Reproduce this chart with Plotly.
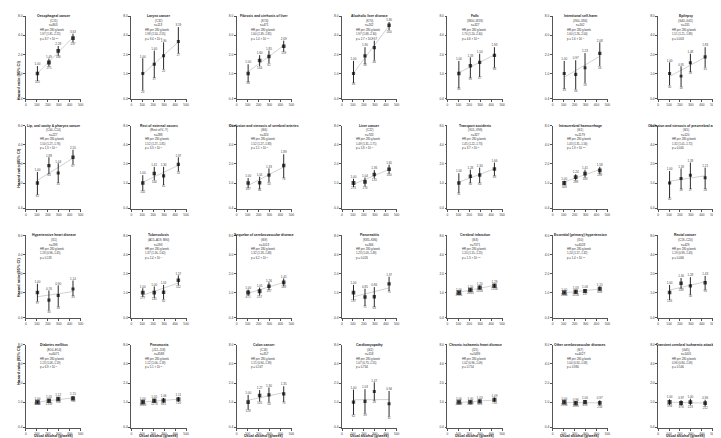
import numpy as np
import plotly.graph_objects as go

# ---- data ----
alcohol = [105, 210, 295, 430]  # g/week, mean intake in each group

titles = ["Oesophageal cancer", "Larynx cancer", "Fibrosis and cirrhosis of liver", "Alcoholic liver disease",
          "Falls", "Intentional self-harm", "Epilepsy",
          "Lip, oral cavity & pharynx cancer", "Rest of external causes", "Occlusion and stenosis of cerebral arteries",
          "Liver cancer", "Transport accidents", "Intracerebral haemorrhage", "Occlusion and stenosis of precerebral arteries",
          "Hypertensive heart disease", "Tuberculosis", "Sequelae of cerebrovascular disease", "Pancreatitis",
          "Cerebral infarction", "Essential (primary) hypertension", "Rectal cancer",
          "Diabetes mellitus", "Pneumonia", "Colon cancer", "Cardiomyopathy",
          "Chronic ischaemic heart disease", "Other cerebrovascular diseases", "Transient cerebral ischaemic attacks"]

codes = ["(C15)", "(C32)", "(K74)", "(K70)", "(W00–W19)", "(X60–X84)", "(G40–G41)",
         "(C00–C14)", "(Rest of V–Y)", "(I66)", "(C22)", "(V01–V99)", "(I61)", "(I65)",
         "(I11)", "(A15–A19, B90)", "(I69)", "(K85–K86)", "(I63)", "(I10)", "(C19–C20)",
         "(E10–E14)", "(J12–J18)", "(C18)", "(I42)", "(I25)", "(I67)", "(G45)"]

n_cases = [803, 113, 471, 242, 327, 162, 135,
           227, 288, 324, 743, 327, 1179, 120,
           198, 593, 1013, 346, 7371, 4028, 429,
           6071, 4588, 357, 158, 5489, 4027, 1405]

hr_per_280 = ["1.97 (1.81–2.15)", "1.98 (1.54–2.55)", "1.60 (1.39–1.85)", "1.97 (1.68–2.30)",
              "1.70 (1.20–2.40)", "1.60 (1.26–2.04)", "1.51 (1.21–1.89)",
              "1.50 (1.27–1.76)", "1.52 (1.27–1.81)", "1.52 (1.27–1.83)", "1.49 (1.31–1.71)",
              "1.45 (1.22–1.73)", "1.43 (1.31–1.56)", "1.32 (1.01–1.72)",
              "1.18 (0.96–1.45)", "1.37 (1.16–1.62)", "1.32 (1.18–1.48)", "1.23 (1.03–1.49)",
              "1.20 (1.15–1.25)", "1.24 (1.17–1.32)", "1.19 (0.99–1.43)",
              "1.13 (1.08–1.19)", "1.12 (1.06–1.18)", "1.15 (0.94–1.39)", "1.07 (0.73–1.55)",
              "1.02 (0.96–1.09)", "1.00 (0.92–1.08)", "0.96 (0.84–1.09)"]

p_text = ["8.7 × 10<sup>−57</sup>", "9.4 × 10<sup>−8</sup>", "1.4 × 10<sup>−10</sup>", "2.7 × 10<sup>−17</sup>",
          "4.6 × 10<sup>−5</sup>", "1.6 × 10<sup>−4</sup>", "0.003",
          "1.3 × 10<sup>−6</sup>", "3.3 × 10<sup>−6</sup>", "5.1 × 10<sup>−6</sup>", "5.8 × 10<sup>−9</sup>",
          "3.7 × 10<sup>−5</sup>", "1.9 × 10<sup>−15</sup>", "0.045",
          "0.118", "2.4 × 10<sup>−4</sup>", "6.2 × 10<sup>−7</sup>", "0.026",
          "1.3 × 10<sup>−17</sup>", "1.4 × 10<sup>−11</sup>", "0.066",
          "6.9 × 10<sup>−7</sup>", "5.1 × 10<sup>−5</sup>", "0.167", "0.734",
          "0.754", "0.980", "0.546"]

hr = [[1.00, 1.49, 2.28, 3.63], [1.00, 1.40, 1.90, 3.19], [1.00, 1.60, 1.85, 2.69], [1.00, 1.90, 2.57, 5.80],
      [1.00, 1.33, 1.50, 1.93], [1.00, 0.97, 1.23, 2.08], [1.00, 0.91, 1.48, 1.83],
      [1.00, 1.88, 1.44, 2.55], [1.00, 1.41, 1.30, 1.97], [1.00, 1.01, 1.33, 1.89], [1.00, 1.04, 1.36, 1.65],
      [1.00, 1.28, 1.34, 1.66], [1.00, 1.24, 1.41, 1.58], [1.00, 1.18, 1.33, 1.21],
      [1.00, 0.76, 0.90, 1.14], [1.00, 1.00, 1.01, 1.57], [1.00, 1.05, 1.26, 1.45], [1.00, 0.85, 0.86, 1.37],
      [1.00, 1.10, 1.20, 1.28], [1.00, 1.03, 1.06, 1.15], [1.00, 1.40, 1.28, 1.43],
      [1.00, 1.05, 1.12, 1.15], [1.00, 1.05, 1.06, 1.11], [1.00, 1.27, 1.30, 1.35], [1.00, 1.03, 1.47, 0.94],
      [1.00, 1.00, 1.03, 1.09], [1.00, 0.96, 1.00, 0.97], [1.00, 0.97, 1.00, 0.96]]

lo = [[0.76, 1.29, 1.90, 3.10], [0.54, 0.85, 1.16, 2.07], [0.73, 1.30, 1.45, 2.20], [0.71, 1.40, 1.60, 4.80],
      [0.59, 0.85, 0.88, 1.23], [0.57, 0.56, 0.70, 1.30], [0.65, 0.62, 1.05, 1.25],
      [0.65, 1.38, 1.00, 1.95], [0.75, 1.10, 0.93, 1.52], [0.83, 0.80, 1.02, 1.20], [0.86, 0.88, 1.18, 1.40],
      [0.70, 1.00, 1.00, 1.30], [0.92, 1.10, 1.22, 1.38], [0.58, 0.80, 0.80, 0.80],
      [0.72, 0.52, 0.60, 0.88], [0.85, 0.82, 0.78, 1.30], [0.89, 0.90, 1.10, 1.26], [0.76, 0.61, 0.59, 1.05],
      [0.96, 1.04, 1.12, 1.20], [0.96, 0.97, 0.98, 1.07], [0.76, 1.14, 0.92, 1.10],
      [0.96, 0.98, 1.05, 1.07], [0.94, 0.98, 0.97, 1.01], [0.76, 1.02, 0.98, 1.00], [0.63, 0.66, 1.05, 0.59],
      [0.96, 0.96, 0.97, 1.01], [0.95, 0.91, 0.93, 0.88], [0.90, 0.88, 0.89, 0.85]]

hi = [[1.31, 1.72, 2.72, 4.25], [1.74, 2.30, 3.10, 5.40], [1.40, 1.95, 2.30, 3.30], [1.58, 2.60, 3.30, 6.50],
      [1.58, 1.80, 2.05, 2.60], [1.58, 1.62, 2.10, 3.10], [1.50, 1.30, 2.05, 2.60],
      [1.50, 2.55, 2.05, 3.35], [1.33, 1.80, 1.80, 2.55], [1.20, 1.26, 1.70, 2.85], [1.17, 1.22, 1.60, 1.95],
      [1.43, 1.62, 1.75, 2.10], [1.09, 1.38, 1.62, 1.80], [1.55, 1.70, 2.10, 1.75],
      [1.38, 1.08, 1.30, 1.55], [1.17, 1.25, 1.32, 1.87], [1.12, 1.20, 1.45, 1.67], [1.32, 1.15, 1.22, 1.78],
      [1.04, 1.16, 1.29, 1.36], [1.04, 1.09, 1.14, 1.25], [1.32, 1.70, 1.75, 1.83],
      [1.04, 1.12, 1.20, 1.24], [1.06, 1.12, 1.16, 1.21], [1.30, 1.55, 1.70, 1.78], [1.58, 1.60, 2.05, 1.50],
      [1.04, 1.05, 1.10, 1.18], [1.05, 1.02, 1.08, 1.07], [1.11, 1.07, 1.13, 1.09]]

cases = [[105, 275, 186, 237], [24, 37, 25, 27], [86, 144, 82, 159], [38, 58, 46, 100],
         [86, 89, 47, 68], [33, 36, 18, 56], [30, 18, 33, 35],
         [62, 63, 35, 67], [102, 100, 45, 53], [107, 84, 54, 76], [273, 174, 135, 160],
         [91, 80, 64, 88], [508, 298, 163, 209], [40, 28, 27, 24],
         [97, 30, 38, 33], [277, 145, 82, 112], [471, 257, 137, 148], [137, 71, 63, 75],
         [2986, 2013, 1016, 1356], [1866, 1016, 537, 609], [126, 108, 56, 94],
         [3048, 1359, 916, 745], [1913, 1274, 681, 720], [128, 105, 54, 70], [62, 39, 26, 31],
         [2209, 1547, 853, 750], [1996, 1185, 613, 233], [594, 376, 223, 212]]

yticks = [0.4, 1, 2, 4, 8]
ytick_text = ["0.4", "1.0", "2.0", "4.0", "8.0"]

# ---- layout of the 4 x 7 grid (pixels) ----
W, H = 721, 438
ncol, nrow = 7, 4
col_left, col_step, col_w = 17, 105.8, 55.5
row_top, row_step, row_h = 6, 110.3, 84

FONT = "Liberation Sans, Arial, sans-serif"
ink = "#222222"

fig = go.Figure()
layout = dict(width=W, height=H, margin=dict(l=0, r=0, t=0, b=0),
              paper_bgcolor="white", plot_bgcolor="white", showlegend=False,
              font=dict(family=FONT, color=ink))
annotations = []

for i in range(len(titles)):
    r, c = divmod(i, ncol)
    k = i + 1
    sfx = "" if k == 1 else str(k)
    xa, ya = "x" + sfx, "y" + sfx
    x0 = col_left + c * col_step
    y0 = row_top + r * row_step

    # fitted log-linear trend through the four groups
    b, a = np.polyfit(alcohol, np.log(hr[i]), 1)
    fx = np.array([alcohol[0], alcohol[-1]])
    fig.add_trace(go.Scatter(x=fx, y=np.exp(a + b * fx), mode="lines", xaxis=xa, yaxis=ya,
                             line=dict(color="#bdbdbd", width=0.7), hoverinfo="skip"))

    h = np.array(hr[i]); l = np.array(lo[i]); u = np.array(hi[i])
    sizes = [1.9 + 0.8 * np.log10(n) for n in cases[i]]
    fig.add_trace(go.Scatter(
        x=alcohol, y=h, mode="markers", xaxis=xa, yaxis=ya,
        marker=dict(symbol="square", color="black", size=sizes, line=dict(width=0)),
        error_y=dict(type="data", symmetric=False, array=u - h, arrayminus=h - l,
                     color="#111", thickness=0.9, width=0)))
    fig.add_trace(go.Scatter(x=alcohol, y=u, mode="text", xaxis=xa, yaxis=ya,
                             text=[f"{v:.2f}" for v in hr[i]], textposition="top center",
                             textfont=dict(size=3, color="#444")))
    fig.add_trace(go.Scatter(x=alcohol, y=l, mode="text", xaxis=xa, yaxis=ya,
                             text=[str(v) for v in cases[i]], textposition="bottom center",
                             textfont=dict(size=3, color="#444")))

    axis_common = dict(showline=True, linecolor="#555", linewidth=0.7, ticks="outside",
                       ticklen=2, tickwidth=0.6, tickcolor="#555", showgrid=False, zeroline=False,
                       tickfont=dict(size=3.2, color="#333"))
    layout["xaxis" + sfx] = dict(domain=[x0 / W, (x0 + col_w) / W], anchor=ya, range=[0, 505],
                                 tickvals=[0, 100, 200, 300, 400, 500], **axis_common)
    layout["yaxis" + sfx] = dict(domain=[1 - (y0 + row_h) / H, 1 - y0 / H], anchor=xa, type="log",
                                 range=[np.log10(0.39), np.log10(8.1)],
                                 tickvals=yticks, ticktext=ytick_text, **axis_common)

    xd, yd = f"{xa} domain", f"{ya} domain"
    annotations.append(dict(x=0.5, y=1 + 4 / row_h, xref=xd, yref=yd, showarrow=False,
                            text=f"<b>{titles[i]}</b>", font=dict(size=3.4, color=ink)))
    annotations.append(dict(x=0.5, y=1 - 1 / row_h, xref=xd, yref=yd, showarrow=False,
                            text=codes[i], font=dict(size=3.0, color="#333")))
    annotations.append(dict(x=0.5, y=1 - 5.5 / row_h, xref=xd, yref=yd, showarrow=False,
                            text=f"n={n_cases[i]}", font=dict(size=3.0, color="#333")))
    block = ["HR per 280 g/week", hr_per_280[i], f"p = {p_text[i]}"]
    for j, line in enumerate(block):
        annotations.append(dict(x=0.22, y=1 - (10 + 4.5 * j) / row_h, xref=xd, yref=yd,
                                showarrow=False, text=line, font=dict(size=2.8, color="#333")))

    # x-axis title under the bottom row
    if r == nrow - 1:
        annotations.append(dict(x=0.5, y=-12 / row_h, xref=xd, yref=yd, showarrow=False,
                                text="<b>Usual alcohol (g/week)</b>", font=dict(size=3.6, color=ink)))

# y-axis titles on the left column
for r in range(nrow):
    yc = row_top + r * row_step + row_h / 2
    annotations.append(dict(x=5 / W, y=1 - yc / H, xref="paper", yref="paper", showarrow=False,
                            textangle=-90, text="<b>Hazard ratio (95% CI)</b>",
                            font=dict(size=3.9, color=ink)))

layout["annotations"] = annotations
fig.update_layout(**layout)
fig.write_html("out.html")
